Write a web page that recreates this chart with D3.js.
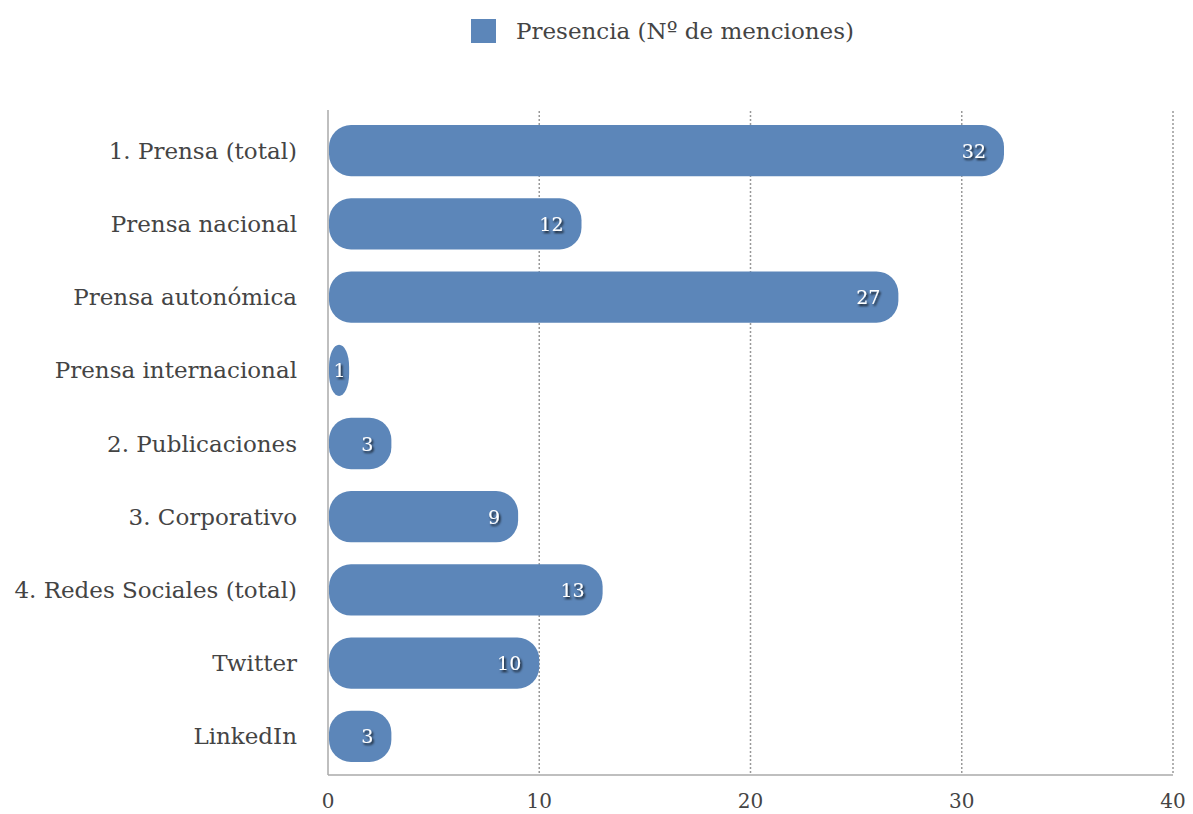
<!DOCTYPE html>
<html>
<head>
<meta charset="utf-8">
<script src="https://cdn.jsdelivr.net/npm/d3@7"></script>
<style>
  body { margin: 0; background: #fff; }
  svg text { font-family: "DejaVu Serif", "Liberation Serif", serif; fill: #444; }
</style>
</head>
<body>
<div id="chart"></div>
<script>
// categorías y valores
const categories = [
    "1. Prensa (total)",
    "Prensa nacional",
    "Prensa autonómica",
    "Prensa internacional",
    "2. Publicaciones",
    "3. Corporativo",
    "4. Redes Sociales (total)",
    "Twitter",
    "LinkedIn"
];
const values = [32, 12, 27, 1, 3, 9, 13, 10, 3];
const xTicks = [0, 10, 20, 30, 40];
const seriesName = "Presencia (Nº de menciones)";

const width = 1193, height = 814;
const barColor = "#5c86b9";

const svg = d3.select("#chart")
    .append("svg")
    .attr("width", width)
    .attr("height", height);

// sombra para etiquetas
const defs = svg.append("defs");
defs.append("filter")
    .attr("id", "shadow")
    .attr("x", "-30%").attr("y", "-30%")
    .attr("width", "160%").attr("height", "160%")
    .append("feDropShadow")
    .attr("dx", 1.5).attr("dy", 2)
    .attr("stdDeviation", 1.3)
    .attr("flood-color", "#000")
    .attr("flood-opacity", 0.85);

const x = d3.scaleLinear()
    .domain([0, 40])
    .range([328, 1173]);

const y = d3.scaleBand()
    .domain(categories)
    .range([114, 773])
    .paddingInner(0.3)
    .paddingOuter(0.15);

const plotTop = 111, plotBottom = 775;

// rejilla punteada
svg.selectAll(".grid")
    .data(xTicks.filter(t => t > 0))
    .enter()
    .append("line")
    .attr("x1", d => x(d)).attr("x2", d => x(d))
    .attr("y1", plotTop).attr("y2", plotBottom)
    .attr("stroke", "#999")
    .attr("stroke-width", 1.5)
    .attr("stroke-dasharray", "2,2");

// ejes
svg.append("line")
    .attr("x1", x(0)).attr("x2", x(0))
    .attr("y1", plotTop - 1).attr("y2", plotBottom)
    .attr("stroke", "#aaa").attr("stroke-width", 1.5);
svg.append("line")
    .attr("x1", x(0)).attr("x2", x(40))
    .attr("y1", plotBottom).attr("y2", plotBottom)
    .attr("stroke", "#aaa").attr("stroke-width", 1.5);

// etiquetas eje x
svg.selectAll(".xtick")
    .data(xTicks)
    .enter()
    .append("text")
    .attr("x", d => x(d))
    .attr("y", 808)
    .attr("text-anchor", "middle")
    .attr("font-size", 20)
    .text(d => d);

// etiquetas de categorías
svg.selectAll(".ylabel")
    .data(categories)
    .enter()
    .append("text")
    .attr("x", 297)
    .attr("y", d => y(d) + y.bandwidth() / 2 + 8)
    .attr("text-anchor", "end")
    .attr("font-size", 23)
    .text(d => d);

// barras
svg.selectAll(".bar")
    .data(values)
    .enter()
    .append("rect")
    .attr("x", x(0) + 1)
    .attr("y", (d, i) => y(categories[i]))
    .attr("width", d => x(d) - x(0) - 1)
    .attr("height", y.bandwidth())
    .attr("rx", 22).attr("ry", 22)
    .attr("fill", barColor);

// valores
svg.selectAll(".val")
    .data(values)
    .enter()
    .append("text")
    .attr("x", d => (x(d) - x(0) < 40) ? (x(0) + x(d)) / 2 + 1 : x(d) - 18)
    .attr("y", (d, i) => y(categories[i]) + y.bandwidth() / 2 + 7)
    .attr("text-anchor", d => (x(d) - x(0) < 40) ? "middle" : "end")
    .attr("font-size", 19)
    .attr("filter", "url(#shadow)")
    .style("fill", "#fff")
    .text(d => d);

// leyenda
svg.append("rect")
    .attr("x", 471).attr("y", 19)
    .attr("width", 25).attr("height", 24)
    .attr("fill", barColor);
svg.append("text")
    .attr("x", 516).attr("y", 39)
    .attr("font-size", 23)
    .text(seriesName);
</script>
</body>
</html>
